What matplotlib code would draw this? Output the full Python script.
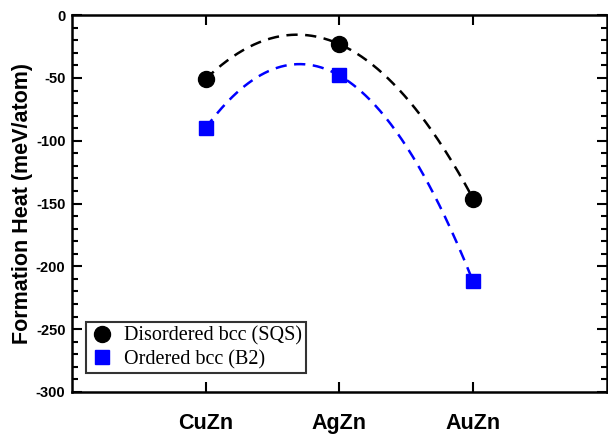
import numpy as np
import matplotlib.pyplot as plt

plt.rcParams['axes.unicode_minus'] = False

alloys = ['CuZn', 'AgZn', 'AuZn']
sqs = [-51, -23, -146]
b2 = [-90, -48, -212]

x = np.arange(1, len(alloys) + 1)
xs = np.linspace(1, 3, 200)

fig = plt.figure(figsize=(6.08, 4.34), dpi=100)
ax = fig.add_axes([0.118, 0.097, 0.88, 0.868])

# smooth guides through the points
for vals, col in [(sqs, 'black'), (b2, 'blue')]:
    p = np.polyfit(x, vals, 2)
    ax.plot(xs, np.polyval(p, xs), '--', color=col, lw=1.8, dashes=(4.5, 3))

ax.plot(x, sqs, 'o', color='black', ms=11.5, label='Disordered bcc (SQS)')
ax.plot(x, b2, 's', color='blue', ms=10, label='Ordered bcc (B2)')

ax.set_xlim(0, 4)
ax.set_ylim(-300, 0)
ax.set_xticks(x)
ax.set_xticklabels(alloys, fontsize=15.5, fontweight='bold', family='Liberation Sans')
ax.set_yticks(np.arange(-300, 1, 50))
ax.set_yticks(np.arange(-300, 1, 10), minor=True)
for lab in ax.get_yticklabels():
    lab.set_fontweight('bold')
    lab.set_family('Liberation Sans')
    lab.set_fontsize(10.5)
ax.tick_params(which='both', direction='in', top=True, right=True, width=1.5)
ax.tick_params(which='major', length=7, pad=4.5)
ax.tick_params(which='minor', length=4)
ax.tick_params(axis='x', pad=15)
for s in ax.spines.values():
    s.set_linewidth(1.8)

ax.set_ylabel('Formation Heat (meV/atom)', fontsize=15.5, fontweight='bold',
              family='Liberation Sans', labelpad=2)

leg = ax.legend(loc='lower left', bbox_to_anchor=(0.026, 0.05), borderaxespad=0,
                fancybox=False, edgecolor='black',
                prop={'family': 'Liberation Serif', 'size': 14.5},
                handletextpad=0.5, borderpad=0.2, labelspacing=0.2, handlelength=1.2)
leg.get_frame().set_linewidth(1.5)

fig.savefig('out.png', dpi=100)
